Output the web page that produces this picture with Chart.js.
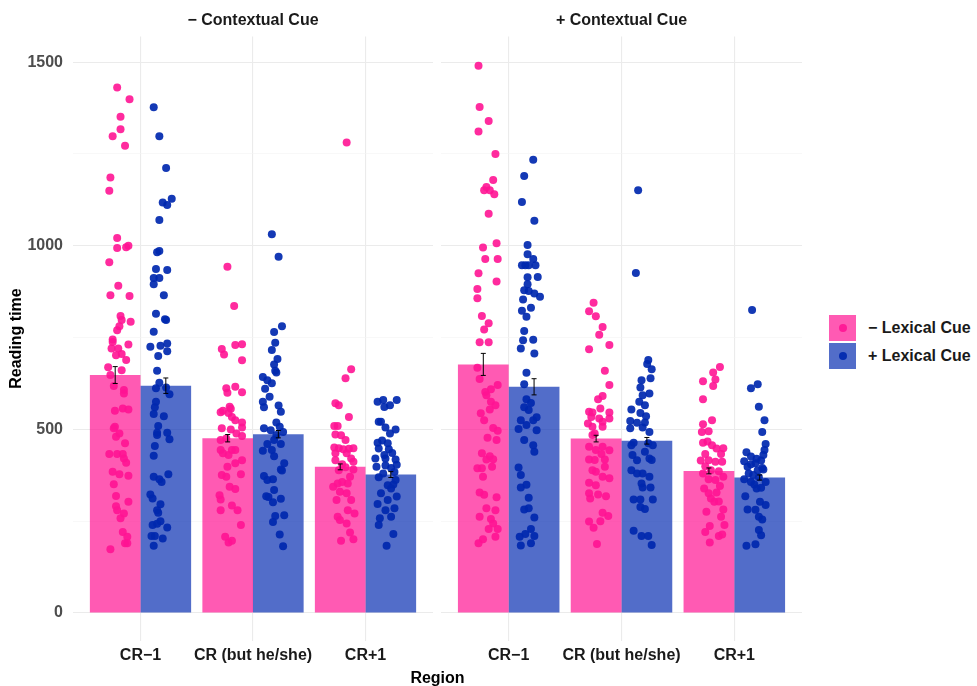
<!DOCTYPE html>
<html>
<head>
<meta charset="utf-8">
<title>Reading time by region</title>
<script src="https://cdn.jsdelivr.net/npm/chart.js@4.4.0/dist/chart.umd.min.js"></script>
<style>
  html, body { margin: 0; padding: 0; background: #fff; overflow: hidden; }
  #wrap { position: relative; width: 977px; height: 686px; font-family: "Liberation Sans", Arial, sans-serif; font-weight: bold; }
  .panel { position: absolute; top: 0; height: 686px; }
  #panel-left { left: 0; width: 433px; }
  #panel-right { left: 441px; width: 361px; }
  #x-title { position: absolute; left: 0; width: 875px; top: 668px; text-align: center; font-size: 16px; line-height: 19px; color: #000; }
  #legend { position: absolute; left: 829px; top: 315px; }
  .key-row { position: absolute; left: 0; height: 26px; display: flex; align-items: center; white-space: nowrap; }
  .key { position: relative; display: inline-block; width: 27px; height: 26px; }
  .dot { position: absolute; left: 9.5px; top: 9px; width: 8px; height: 8px; border-radius: 50%; }
  .key-text { margin-left: 12px; font-size: 16px; color: #1a1a1a; }
</style>
</head>
<body>
<div id="wrap">
  <div class="panel" id="panel-left"><canvas id="chart-left"></canvas></div>
  <div class="panel" id="panel-right"><canvas id="chart-right"></canvas></div>
  <div id="x-title">Region</div>
  <div id="legend"></div>
</div>
<script>
"use strict";

const regions = ['CR−1', 'CR (but he/she)', 'CR+1'];
const contextLabels = ['− Contextual Cue', '+ Contextual Cue'];
const lexicalLabels = ['− Lexical Cue', '+ Lexical Cue'];
const yTicks = [0, 250, 500, 750, 1000, 1250, 1500];

// mean reading time per region (bars) and standard error
const meanNoContextNoLexical = [648, 476, 398];
const meanNoContextLexical = [619, 487, 377];
const meanContextNoLexical = [677, 475, 387];
const meanContextLexical = [616, 469, 369];

const seNoContextNoLexical = [23, 10, 8];
const seNoContextLexical = [21, 10, 8];
const seContextNoLexical = [30, 9, 8];
const seContextLexical = [22, 9, 7];

// participant means: [ms, jitter in hundredths of a category], one list per region
const pointsNoContextNoLexical = [
    [[1431,-2],[1399,9],[1351,1],[1317,1],[1298,-6],[1272,5],[1186,-8],[1150,-9],[1021,-2],[994,-2],[996,6],[1000,8],[955,-9],[891,-1],[865,-8],[863,9],[809,1],[798,2],[793,10],[781,0],[770,-2],[745,-6],[738,-6],[720,-7],[720,-1],[731,8],[705,2],[702,-3],[689,6],[669,-10],[661,2],[648,-8],[618,-5],[607,4],[598,4],[551,-4],[557,3],[554,8],[507,-4],[503,-5],[489,0],[480,-3],[462,5],[433,-9],[433,-2],[433,3],[421,4],[409,6],[385,-6],[378,0],[374,8],[351,-5],[319,-3],[291,-3],[303,8],[280,-2],[271,4],[258,1],[221,3],[208,7],[190,5],[190,7],[174,-8]],
    [[943,-4],[836,2],[719,-9],[704,-7],[730,3],[732,9],[688,9],[612,-5],[600,-4],[616,3],[601,9],[547,-10],[551,-8],[562,-2],[556,-1],[545,-3],[534,0],[525,3],[519,9],[505,9],[503,-9],[500,-1],[489,4],[482,9],[471,-10],[475,-5],[444,-10],[444,0],[444,3],[435,-8],[430,-3],[416,9],[408,3],[398,-4],[376,-9],[371,-5],[378,8],[344,-2],[338,3],[321,-11],[309,-10],[293,0],[280,5],[280,-10],[240,8],[208,-6],[192,-3],[197,0]],
    [[1281,2],[664,6],[639,1],[571,-8],[566,-5],[534,4],[509,-9],[509,-6],[486,-8],[484,-3],[471,1],[451,-9],[449,-5],[446,-1],[447,4],[449,8],[435,-8],[435,2],[421,6],[416,-8],[412,8],[405,-2],[397,1],[389,-5],[391,8],[371,5],[344,-10],[353,-6],[357,-2],[353,3],[330,-4],[326,2],[308,-7],[308,6],[280,3],[271,9],[262,-6],[253,-4],[244,2],[219,5],[197,-3],[201,8]]
];
const pointsNoContextLexical = [
    [[1377,-7],[1298,-2],[1212,4],[1128,9],[1118,1],[1111,5],[1070,-2],[986,-2],[982,-4],[937,-5],[934,5],[912,-7],[912,-2],[895,-7],[865,2],[815,-5],[800,3],[798,4],[766,-7],[725,-10],[728,-1],[734,5],[713,5],[700,-3],[660,-4],[627,-2],[612,-5],[614,4],[596,7],[575,-5],[560,-6],[542,-7],[536,2],[509,-3],[485,-4],[491,-4],[491,5],[473,7],[455,-6],[428,-7],[378,6],[371,-7],[364,-2],[357,0],[323,-10],[312,-8],[296,-1],[280,-4],[273,-3],[250,-1],[240,-8],[243,-4],[233,5],[210,-9],[210,-6],[203,1],[183,-7]],
    [[1031,-2],[970,4],[781,7],[765,0],[736,1],[716,-2],[692,3],[677,0],[660,1],[655,2],[643,-10],[634,-6],[626,-2],[611,-8],[589,-4],[575,-10],[560,-9],[565,4],[548,6],[519,2],[507,5],[503,-9],[498,-3],[493,8],[485,2],[471,0],[460,6],[460,-6],[442,-10],[444,-2],[427,0],[408,9],[391,6],[388,7],[373,-9],[362,-6],[364,-1],[335,0],[318,-7],[316,-5],[302,-1],[311,6],[264,1],[266,9],[248,-1],[214,5],[182,8]],
    [[575,-8],[580,-3],[566,3],[580,9],[561,-2],[521,-7],[521,-5],[505,-1],[500,8],[489,3],[470,-4],[464,-8],[462,1],[448,-7],[446,2],[436,5],[430,-2],[421,-10],[421,-1],[418,8],[398,-9],[402,-1],[404,9],[395,4],[380,-3],[384,7],[370,-7],[362,8],[350,6],[348,1],[339,4],[326,-5],[317,9],[297,-8],[308,1],[285,7],[280,-1],[262,4],[258,-6],[240,-7],[215,6],[183,0]]
];
const pointsContextNoLexical = [
    [[1490,-8],[1378,-7],[1340,1],[1311,-8],[1250,7],[1179,5],[1160,-1],[1151,-3],[1151,2],[1140,6],[1087,1],[1007,8],[995,-4],[964,-2],[964,9],[925,-8],[903,8],[882,-9],[857,-9],[809,-5],[789,1],[772,-3],[737,-7],[737,1],[668,-9],[637,-7],[602,-2],[609,3],[621,9],[593,-1],[575,3],[566,7],[554,2],[544,-6],[525,-3],[504,5],[496,9],[477,0],[471,8],[435,-5],[427,2],[418,-1],[419,5],[394,-9],[394,-5],[398,4],[371,-4],[328,-7],[322,-3],[315,8],[285,-1],[280,7],[262,-7],[256,3],[244,5],[229,1],[229,9],[208,7],[201,-4],[190,-8]],
    [[845,-6],[822,-10],[808,-4],[779,2],[758,-1],[718,-10],[730,8],[660,4],[621,8],[591,2],[582,-2],[557,0],[548,-10],[546,-7],[546,8],[534,-8],[530,-1],[530,8],[516,-11],[521,2],[507,-7],[507,2],[489,-5],[485,-7],[453,-10],[453,2],[444,-4],[443,8],[433,1],[418,-10],[418,4],[417,-5],[389,-7],[398,4],[385,-4],[371,2],[367,8],[355,-10],[348,-4],[326,-10],[312,-9],[323,-2],[318,5],[273,2],[264,7],[249,-10],[250,0],[232,-6],[188,-3]],
    [[670,6],[655,0],[636,2],[631,-9],[618,0],[582,-9],[525,-1],[514,-9],[493,-10],[495,-4],[464,-9],[467,-5],[457,-1],[448,3],[449,9],[433,7],[433,-7],[415,-11],[416,-4],[412,2],[412,8],[400,-7],[380,-9],[389,-2],[386,5],[371,9],[364,-4],[362,2],[346,6],[339,-8],[326,-4],[328,3],[312,-2],[303,1],[304,5],[282,9],[276,-6],[262,7],[237,-3],[240,10],[221,-7],[210,5],[214,8],[192,-3]]
];
const pointsContextLexical = [
    [[1234,3],[1190,-5],[1119,-7],[1068,4],[1002,-2],[977,-2],[964,3],[947,-7],[947,-4],[947,-1],[947,5],[915,7],[914,-2],[895,-2],[879,-5],[877,-1],[870,4],[861,9],[854,-6],[831,1],[823,-7],[807,-3],[768,-5],[743,-6],[744,3],[720,-8],[707,4],[654,-3],[623,-5],[582,-3],[572,1],[560,-5],[553,-1],[525,-8],[525,3],[533,6],[512,-3],[501,-10],[498,6],[471,-5],[457,3],[439,4],[396,-10],[376,-8],[349,-3],[342,-8],[314,-1],[282,-5],[285,-1],[260,4],[229,1],[208,-9],[215,-4],[210,4],[184,-8],[190,1]],
    [[1151,-4],[926,-6],[689,5],[678,4],[664,8],[634,-1],[639,7],[614,-2],[598,6],[593,0],[575,-3],[566,2],[554,-10],[545,-2],[536,3],[523,-11],[518,-5],[519,2],[503,-11],[505,0],[493,6],[464,-8],[457,-10],[462,5],[457,9],[439,2],[430,-9],[416,-5],[421,6],[417,8],[389,-10],[380,-5],[380,0],[371,6],[353,-1],[342,0],[342,7],[309,-8],[309,-2],[309,9],[289,-2],[283,2],[224,-8],[210,-1],[210,5],[185,8]],
    [[825,-3],[623,2],[612,-4],[562,3],[525,8],[493,6],[460,9],[444,8],[438,-8],[430,7],[426,-4],[420,1],[415,5],[413,-10],[405,-4],[398,-7],[408,0],[395,6],[391,7],[389,2],[380,-6],[376,-2],[370,3],[364,-10],[357,-4],[357,9],[350,-1],[339,1],[341,5],[318,-9],[303,4],[294,9],[282,-7],[281,0],[262,3],[255,6],[226,3],[212,5],[183,-8],[187,0]]
];

const barColors = ['rgba(255, 20, 147, 0.7)', 'rgba(0, 40, 175, 0.68)'];
const pointColors = ['rgba(255, 20, 147, 0.9)', 'rgba(0, 40, 175, 0.92)'];

const Y_MIN = -74.75;
const Y_MAX = 1569.75;
const DODGE = 0.1875; // point groups sit closer together than the bars

Chart.defaults.font.family = "'Liberation Sans', Arial, sans-serif";
const boldFont = { size: 16, weight: 'bold' };

const errorBarPlugin = {
    id: 'errorBars',
    afterDatasetsDraw(chart, args, opts) {
        const ctx = chart.ctx;
        const yScale = chart.scales.y;
        ctx.save();
        ctx.strokeStyle = opts.color;
        ctx.lineWidth = opts.lineWidth;
        chart.data.datasets.forEach((ds, di) => {
            if (ds.type !== 'bar' || !ds.errors) return;
            chart.getDatasetMeta(di).data.forEach((bar, i) => {
                const mean = ds.data[i].y;
                const top = yScale.getPixelForValue(mean + ds.errors[i]);
                const bottom = yScale.getPixelForValue(mean - ds.errors[i]);
                const half = opts.capHalfWidth;
                ctx.beginPath();
                ctx.moveTo(bar.x, top);
                ctx.lineTo(bar.x, bottom);
                ctx.moveTo(bar.x - half, top);
                ctx.lineTo(bar.x + half, top);
                ctx.moveTo(bar.x - half, bottom);
                ctx.lineTo(bar.x + half, bottom);
                ctx.stroke();
            });
        });
        ctx.restore();
    }
};

function toPoints(groups, side) {
    const result = [];
    groups.forEach((group, i) => {
        group.forEach(([ms, jitter]) => {
            result.push({ x: i + side * DODGE + jitter / 100, y: ms });
        });
    });
    return result;
}

function makePanel(canvasId, title, means, errors, points, showYAxis) {
    const datasets = [];
    lexicalLabels.forEach((label, k) => {
        datasets.push({
            type: 'bar',
            label: label,
            data: means[k].map((v, i) => ({ x: i, y: v })),
            errors: errors[k],
            backgroundColor: barColors[k],
            borderWidth: 0,
            categoryPercentage: 0.9,
            barPercentage: 1,
            order: 2
        });
    });
    lexicalLabels.forEach((label, k) => {
        datasets.push({
            type: 'scatter',
            label: label,
            data: toPoints(points[k], k === 0 ? -1 : 1),
            backgroundColor: pointColors[k],
            borderWidth: 0,
            pointRadius: 4,
            pointHoverRadius: 4,
            order: 1
        });
    });

    const ctx = document.querySelector('#' + canvasId).getContext('2d');
    return new Chart(ctx, {
        type: 'bar',
        data: { datasets: datasets },
        plugins: [errorBarPlugin],
        options: {
            responsive: true,
            maintainAspectRatio: false,
            animation: false,
            layout: { padding: 0, autoPadding: false },
            plugins: {
                legend: { display: false },
                tooltip: { enabled: false },
                errorBars: { color: '#000', lineWidth: 1, capHalfWidth: 2.5 }
            },
            scales: {
                x: {
                    type: 'linear',
                    offset: false,
                    min: -0.6,
                    max: regions.length - 0.4,
                    afterBuildTicks: (scale) => { scale.ticks = regions.map((r, i) => ({ value: i })); },
                    afterFit: (scale) => { scale.height = 45.5; },
                    ticks: {
                        callback: (value) => regions[value],
                        autoSkip: false,
                        maxRotation: 0,
                        minRotation: 0,
                        padding: 5,
                        color: '#1a1a1a',
                        font: boldFont
                    },
                    grid: { offset: false, color: '#ebebeb', lineWidth: 1.1, drawTicks: false },
                    border: { display: false }
                },
                strip: {
                    type: 'linear',
                    position: 'top',
                    afterFit: (scale) => { scale.height = 36.5; },
                    ticks: { display: false },
                    grid: { display: false },
                    border: { display: false },
                    title: { display: true, text: title, color: '#1a1a1a', font: boldFont, padding: { top: 11, bottom: 0 } }
                },
                y: {
                    min: Y_MIN,
                    max: Y_MAX,
                    afterBuildTicks: (scale) => { scale.ticks = yTicks.map(v => ({ value: v })); },
                    afterFit: (scale) => { scale.width = showYAxis ? 73 : 0; },
                    ticks: {
                        display: showYAxis,
                        callback: (value) => (value % 500 === 0 ? String(value) : ''),
                        padding: 10,
                        color: '#4d4d4d',
                        font: boldFont
                    },
                    grid: {
                        color: (c) => (c.tick && c.tick.value % 500 === 0 ? '#ebebeb' : '#f4f4f4'),
                        lineWidth: (c) => (c.tick && c.tick.value % 500 === 0 ? 1.1 : 0.6),
                        drawTicks: false
                    },
                    border: { display: false },
                    title: { display: showYAxis, text: 'Reading time', color: '#000', font: boldFont, padding: { top: 7, bottom: 0 } }
                }
            }
        }
    });
}

function buildLegend() {
    const box = document.querySelector('#legend');
    lexicalLabels.forEach((label, k) => {
        const row = document.createElement('div');
        row.className = 'key-row';
        row.style.top = (k * 28) + 'px';
        row.innerHTML = `<span class="key" style="background:${barColors[k]}"><span class="dot" style="background:${pointColors[k]}"></span></span><span class="key-text">${label}</span>`;
        box.appendChild(row);
    });
}

makePanel('chart-left', contextLabels[0],
    [meanNoContextNoLexical, meanNoContextLexical],
    [seNoContextNoLexical, seNoContextLexical],
    [pointsNoContextNoLexical, pointsNoContextLexical], true);
makePanel('chart-right', contextLabels[1],
    [meanContextNoLexical, meanContextLexical],
    [seContextNoLexical, seContextLexical],
    [pointsContextNoLexical, pointsContextLexical], false);
buildLegend();
</script>
</body>
</html>
